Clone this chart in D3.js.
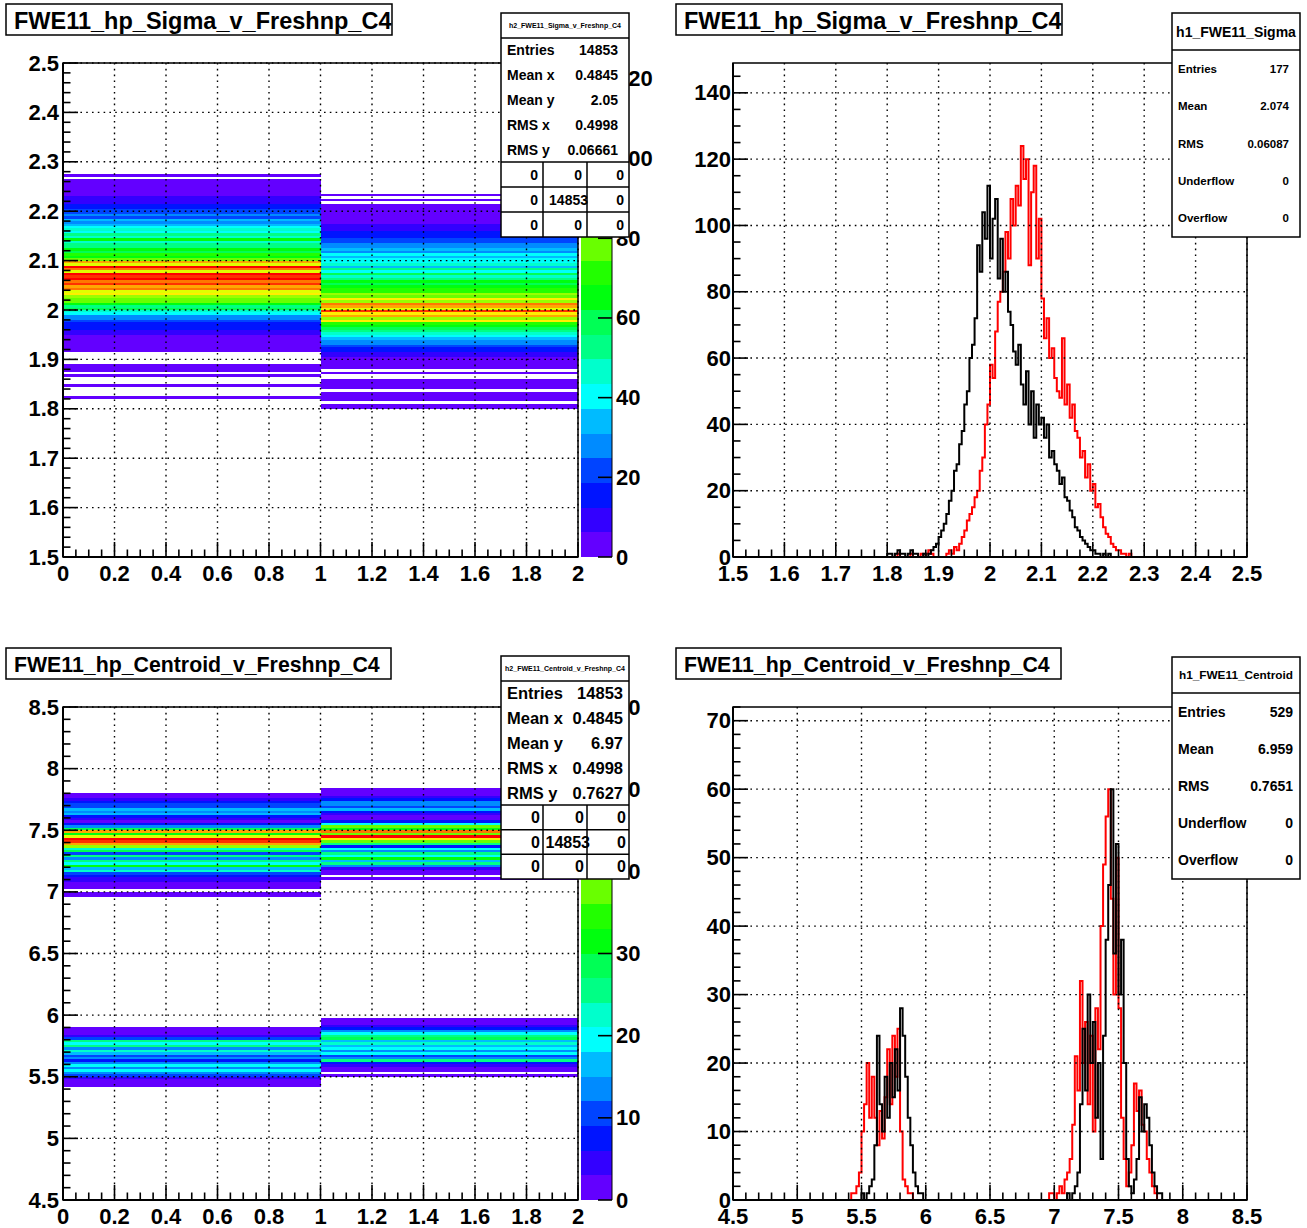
<!DOCTYPE html>
<html>
<head>
<meta charset="utf-8">
<script src="https://cdn.jsdelivr.net/npm/d3@7"></script>
<style>
  body { margin: 0; background: #fff; }
  svg { display: block; font-family: "Liberation Sans", Arial, sans-serif; font-weight: bold; }
</style>
</head>
<body>
<svg id="canvas" width="1307" height="1228"></svg>
<script>
// ---------------- data ----------------
// Sigma histograms: 200 bins of 0.005 between 1.5 and 2.5, listed from the first filled bin
const sigmaDomain = [1.5, 2.5];
const sigmaBinWidth = 0.005;
const sigmaRedFirst = 1.82;   // Freshnp bin 0 (red, left column)
const sigmaRed = [1, 0, 0, 0, 0, 1, 0, 0, 0, 1,
  0, 1, 2, 1, 0, 0, 0, 0, 0, 1,
  2, 1, 3, 2, 4, 6, 8, 11, 13, 15,
  18, 20, 26, 30, 40, 46, 58, 54, 68, 77,
  80, 86, 98, 90, 108, 100, 112, 106, 124, 114,
  120, 88, 110, 118, 90, 102, 78, 66, 72, 60,
  63, 54, 50, 48, 66, 46, 52, 42, 46, 38,
  36, 30, 32, 24, 28, 20, 22, 15, 16, 12,
  9, 7, 6, 4, 3, 2, 2, 1, 1, 0, 1];
const sigmaBlackFirst = 1.80; // Freshnp bin 1 (black, right column)
const sigmaBlack = [1, 1, 0, 1, 2, 1, 1, 0, 1, 2,
  1, 1, 0, 0, 1, 0, 1, 2, 3, 4,
  6, 8, 10, 13, 17, 20, 26, 28, 34, 38,
  46, 50, 60, 64, 72, 94, 86, 104, 96, 112,
  90, 102, 108, 84, 96, 80, 86, 74, 70, 62,
  58, 64, 52, 46, 56, 40, 50, 36, 46, 40,
  42, 36, 40, 30, 32, 28, 26, 22, 24, 18,
  17, 14, 12, 9, 8, 6, 5, 4, 3, 2,
  2, 1, 1, 0, 1, 0, 1];

// Centroid histograms: 200 bins of 0.02 between 4.5 and 8.5
const centroidDomain = [4.5, 8.5];
const centroidBinWidth = 0.02;
const centroidRedLowFirst = 5.42;
const centroidRedLow = [1, 1, 2, 4, 10, 14, 20, 12, 18, 12, 8, 13, 9, 15, 22, 14, 24, 18, 25, 10, 3, 2, 1, 1];
const centroidRedHighFirst = 6.96;
const centroidRedHigh = [1, 1, 0, 1, 2, 1, 3, 4, 6, 11, 21, 16, 32, 20, 26, 14, 24, 10, 28, 22,
  40, 49, 56, 60, 44, 30, 50, 28, 12, 6, 2, 4, 8, 17, 13, 16, 11, 10, 6, 4, 2, 1];
const centroidBlackLowFirst = 5.50;
const centroidBlackLow = [1, 0, 1, 2, 3, 8, 24, 14, 10, 18, 12, 20, 15, 22, 16, 28, 24, 18, 12, 8, 4, 2, 1, 1];
const centroidBlackHighFirst = 7.10;
const centroidBlackHigh = [1, 0, 1, 2, 4, 14, 25, 16, 30, 20, 26, 12, 20, 6, 24, 38, 46, 60, 36, 52,
  30, 38, 20, 6, 2, 1, 3, 6, 15, 10, 14, 12, 8, 4, 2, 1, 1];

// x bins of the 2D histograms (Freshnp)
const freshnpEdges = [0, 1, 2];

// axis tick labels
const freshnpTicks = [0, 0.2, 0.4, 0.6, 0.8, 1, 1.2, 1.4, 1.6, 1.8, 2];
const sigmaTicks = [1.5, 1.6, 1.7, 1.8, 1.9, 2, 2.1, 2.2, 2.3, 2.4, 2.5];
const centroidTicks = [4.5, 5, 5.5, 6, 6.5, 7, 7.5, 8, 8.5];
const sigmaCountTicks = [0, 20, 40, 60, 80, 100, 120, 140];
const centroidCountTicks = [0, 10, 20, 30, 40, 50, 60, 70];
const sigmaZTicks = [0, 20, 40, 60, 80, 100, 120];
const centroidZTicks = [0, 10, 20, 30, 40, 50, 60];
const sigmaCountMax = 149;
const centroidCountMax = 72;

// titles and statistics boxes
const titleSigma = "FWE11_hp_Sigma_v_Freshnp_C4";
const titleCentroid = "FWE11_hp_Centroid_v_Freshnp_C4";
const statsSigma2DName = "h2_FWE11_Sigma_v_Freshnp_C4";
const statsSigma2D = [["Entries", "14853"], ["Mean x", "0.4845"], ["Mean y", "2.05"], ["RMS x", "0.4998"], ["RMS y", "0.06661"]];
const statsCentroid2DName = "h2_FWE11_Centroid_v_Freshnp_C4";
const statsCentroid2D = [["Entries", "14853"], ["Mean x", "0.4845"], ["Mean y", "6.97"], ["RMS x", "0.4998"], ["RMS y", "0.7627"]];
const statsTable = [["0", "0", "0"], ["0", "14853", "0"], ["0", "0", "0"]];
const statsSigma1DName = "h1_FWE11_Sigma";
const statsSigma1D = [["Entries", "177"], ["Mean", "2.074"], ["RMS", "0.06087"], ["Underflow", "0"], ["Overflow", "0"]];
const statsCentroid1DName = "h1_FWE11_Centroid";
const statsCentroid1D = [["Entries", "529"], ["Mean", "6.959"], ["RMS", "0.7651"], ["Underflow", "0"], ["Overflow", "0"]];

// ---------------- helpers ----------------
const svg = d3.select("#canvas");
svg.append("rect").attr("width", 1307).attr("height", 1228).attr("fill", "#fff");

// expand listed segments into full bin list (unlisted bins are empty)
function makeBins(domain, width, segments) {
  const n = Math.round((domain[1] - domain[0]) / width);
  const counts = new Array(n).fill(0);
  segments.forEach(([first, vals]) => {
    const i0 = Math.round((first - domain[0]) / width);
    vals.forEach((v, i) => { counts[i0 + i] = v; });
  });
  return counts.map((c, i) => ({lo: domain[0] + i * width, hi: domain[0] + (i + 1) * width, c: c}));
}

// ROOT "pretty palette": 50 colours violet -> red, 20 contour levels
const nLevels = 20, nColors = 50;
function levelColor(k) {
  const c = Math.floor((k + 0.99) * nColors / nLevels);
  return d3.hsl(280 - (c + 1) * 280 / nColors, 1, 0.5).formatHex();
}
function zLevel(z, zmax) {
  return Math.min(nLevels - 1, Math.floor(0.01 + z * nLevels / zmax));
}

function fmt(v) { return String(+v.toFixed(3)); }

function minorTicks(major, sub, lo, hi) {
  const step = (major[1] - major[0]) / sub;
  const out = [];
  for (let v = major[0] - step * sub; v <= hi + 1e-9; v += step) {
    if (v < lo - 1e-9) continue;
    if (major.some(m => Math.abs(m - v) < 1e-9)) continue;
    out.push(v);
  }
  return out;
}

function drawGrid(g, x, y, xt, yt) {
  const [x0, x1] = x.range(), [y1, y0] = y.range();
  const grid = g.append("g").attr("stroke", "#000").attr("stroke-width", 1.4)
    .attr("stroke-dasharray", "1.6,4.2");
  grid.selectAll(".gx").data(xt).join("line")
    .attr("x1", d => x(d)).attr("x2", d => x(d)).attr("y1", y0).attr("y2", y1);
  grid.selectAll(".gy").data(yt).join("line")
    .attr("x1", x0).attr("x2", x1).attr("y1", d => y(d)).attr("y2", d => y(d));
}

function drawAxes(g, x, y, xt, xsub, yt, ysub, labelRight) {
  const [x0, x1] = x.range(), [y1, y0] = y.range();
  g.append("rect").attr("x", x0).attr("y", y0).attr("width", x1 - x0).attr("height", y1 - y0)
    .attr("fill", "none").attr("stroke", "#000").attr("stroke-width", 1.5);
  const tk = g.append("g").attr("stroke", "#000").attr("stroke-width", 1.6);
  const xl = 15, yl = 15;
  tk.selectAll(".xM").data(xt).join("line")
    .attr("x1", d => x(d)).attr("x2", d => x(d)).attr("y1", y1).attr("y2", y1 - xl);
  tk.selectAll(".xm").data(minorTicks(xt, xsub, x.domain()[0], x.domain()[1])).join("line")
    .attr("x1", d => x(d)).attr("x2", d => x(d)).attr("y1", y1).attr("y2", y1 - xl / 2);
  tk.selectAll(".yM").data(yt).join("line")
    .attr("x1", x0).attr("x2", x0 + yl).attr("y1", d => y(d)).attr("y2", d => y(d));
  tk.selectAll(".ym").data(minorTicks(yt, ysub, y.domain()[0], y.domain()[1])).join("line")
    .attr("x1", x0).attr("x2", x0 + yl / 2).attr("y1", d => y(d)).attr("y2", d => y(d));
  g.append("line").attr("x1", x0).attr("x2", x0).attr("y1", y0).attr("y2", y1)
    .attr("stroke", "#000").attr("stroke-width", 2);
  g.append("line").attr("x1", x0).attr("x2", x1).attr("y1", y1).attr("y2", y1)
    .attr("stroke", "#000").attr("stroke-width", 2);

  g.selectAll(".xlab").data(xt).join("text")
    .attr("x", d => x(d)).attr("y", y1 + 16).attr("text-anchor", "middle")
    .attr("dominant-baseline", "central").attr("font-size", 22).text(fmt);
  g.selectAll(".ylab").data(yt).join("text")
    .attr("x", labelRight).attr("y", d => y(d)).attr("text-anchor", "end")
    .attr("dominant-baseline", "central").attr("font-size", 22).text(fmt);
}

function drawPalette(g, z, zt, x0, x1) {
  const [zb, ztop] = z.range();
  const zmax = z.domain()[1];
  const levels = d3.range(nLevels);
  g.selectAll(".pal").data(levels).join("rect")
    .attr("x", x0).attr("width", x1 - x0)
    .attr("y", k => z(zmax * (k + 1) / nLevels))
    .attr("height", k => z(zmax * k / nLevels) - z(zmax * (k + 1) / nLevels))
    .attr("fill", k => levelColor(k)).attr("shape-rendering", "crispEdges");
  g.selectAll(".ptk").data(zt).join("line")
    .attr("x1", x1 - 14).attr("x2", x1).attr("y1", d => z(d)).attr("y2", d => z(d))
    .attr("stroke", "#000").attr("stroke-width", 1.6);
  g.append("line").attr("x1", x1).attr("x2", x1).attr("y1", zb).attr("y2", ztop)
    .attr("stroke", "#000").attr("stroke-width", 1);
  g.selectAll(".plab").data(zt).join("text")
    .attr("x", x1 + 4).attr("y", d => z(d)).attr("dominant-baseline", "central")
    .attr("font-size", 22).text(fmt);
}

function draw2D(g, x, y, columns, zmax) {
  columns.forEach(col => {
    g.append("g").selectAll("rect").data(col.bins.filter(b => b.c > 0)).join("rect")
      .attr("x", x(col.lo)).attr("width", x(col.hi) - x(col.lo))
      .attr("y", b => y(b.hi)).attr("height", b => y(b.lo) - y(b.hi))
      .attr("fill", b => levelColor(zLevel(b.c, zmax)))
      .attr("shape-rendering", "crispEdges");
  });
}

function drawStep(g, x, y, bins, color) {
  const pts = [];
  bins.forEach(b => { pts.push([x(b.lo), y(b.c)]); pts.push([x(b.hi), y(b.c)]); });
  g.append("path").attr("d", d3.line()(pts)).attr("fill", "none")
    .attr("stroke", color).attr("stroke-width", 2).attr("stroke-linejoin", "miter");
}

function drawTitle(g, box, text, size) {
  g.append("rect").attr("x", box[0]).attr("y", box[1]).attr("width", box[2] - box[0])
    .attr("height", box[3] - box[1]).attr("fill", "#fff").attr("stroke", "#000").attr("stroke-width", 1.5);
  g.append("text").attr("x", box[0] + 8).attr("y", (box[1] + box[3]) / 2 + 1)
    .attr("dominant-baseline", "central").attr("font-size", size).text(text);
}

// o: box, titleBottom, name, nameSize, rows, rowSize, labelX, valueX, table
function drawStats(g, o) {
  const [bx0, by0, bx1, by1] = o.box;
  g.append("rect").attr("x", bx0).attr("y", by0).attr("width", bx1 - bx0).attr("height", by1 - by0)
    .attr("fill", "#fff").attr("stroke", "#000").attr("stroke-width", 1.5);
  g.append("line").attr("x1", bx0).attr("x2", bx1).attr("y1", o.titleBottom).attr("y2", o.titleBottom)
    .attr("stroke", "#000").attr("stroke-width", 1.5);
  g.append("text").attr("x", (bx0 + bx1) / 2).attr("y", (by0 + o.titleBottom) / 2)
    .attr("text-anchor", "middle").attr("dominant-baseline", "central")
    .attr("font-size", o.nameSize).text(o.name);
  const rowsBottom = o.table ? o.tableTop : by1;
  const rh = (rowsBottom - o.titleBottom) / o.rows.length;
  o.rows.forEach((r, i) => {
    const cy = o.titleBottom + rh * (i + 0.5);
    g.append("text").attr("x", o.labelX).attr("y", cy).attr("dominant-baseline", "central")
      .attr("font-size", o.rowSize).text(r[0]);
    g.append("text").attr("x", o.valueX).attr("y", cy).attr("dominant-baseline", "central")
      .attr("text-anchor", "end").attr("font-size", o.rowSize).text(r[1]);
  });
  if (o.table) {
    const th = (by1 - o.tableTop) / o.table.length;
    const cols = [bx0, o.colX[0], o.colX[1], bx1];
    const ln = g.append("g").attr("stroke", "#000").attr("stroke-width", 1.5);
    d3.range(o.table.length).forEach(i => {
      ln.append("line").attr("x1", bx0).attr("x2", bx1)
        .attr("y1", o.tableTop + th * i).attr("y2", o.tableTop + th * i);
    });
    o.colX.forEach(cx => {
      ln.append("line").attr("x1", cx).attr("x2", cx).attr("y1", o.tableTop).attr("y2", by1);
    });
    o.table.forEach((row, i) => {
      row.forEach((v, j) => {
        const pad = (v.length > 1) ? o.cellPad - 6 : o.cellPad;
        g.append("text").attr("x", cols[j + 1] - pad).attr("y", o.tableTop + th * (i + 0.5))
          .attr("text-anchor", "end").attr("dominant-baseline", "central")
          .attr("font-size", o.tableSize).text(v);
      });
    });
  }
}

// ---------------- build the bins ----------------
const sigmaRedBins = makeBins(sigmaDomain, sigmaBinWidth, [[sigmaRedFirst, sigmaRed]]);
const sigmaBlackBins = makeBins(sigmaDomain, sigmaBinWidth, [[sigmaBlackFirst, sigmaBlack]]);
const centroidRedBins = makeBins(centroidDomain, centroidBinWidth,
  [[centroidRedLowFirst, centroidRedLow], [centroidRedHighFirst, centroidRedHigh]]);
const centroidBlackBins = makeBins(centroidDomain, centroidBinWidth,
  [[centroidBlackLowFirst, centroidBlackLow], [centroidBlackHighFirst, centroidBlackHigh]]);

const sigmaZmax = d3.max(sigmaRed.concat(sigmaBlack));
const centroidZmax = d3.max(centroidRedLow.concat(centroidRedHigh, centroidBlackLow, centroidBlackHigh));

// ---------------- pad 1: Sigma vs Freshnp (COLZ) ----------------
{
  const g = svg.append("g");
  const x = d3.scaleLinear(d3.extent(freshnpEdges), [63, 578]);
  const y = d3.scaleLinear(sigmaDomain, [557, 63]);
  const z = d3.scaleLinear([0, sigmaZmax], [557, 63]);
  draw2D(g, x, y, [
    {lo: freshnpEdges[0], hi: freshnpEdges[1], bins: sigmaRedBins},
    {lo: freshnpEdges[1], hi: freshnpEdges[2], bins: sigmaBlackBins}], sigmaZmax);
  drawGrid(g, x, y, freshnpTicks, sigmaTicks);
  drawAxes(g, x, y, freshnpTicks, 4, sigmaTicks, 5, 59);
  drawPalette(g, z, sigmaZTicks, 581, 612);
  drawStats(g, {box: [501, 13, 629, 237], titleBottom: 38, name: statsSigma2DName, nameSize: 7,
    rows: statsSigma2D, rowSize: 14, labelX: 507, valueX: 618,
    table: statsTable, tableTop: 162, colX: [543, 587], cellPad: 5, tableSize: 14});
  drawTitle(g, [6, 4, 392, 35], titleSigma, 23.5);
}

// ---------------- pad 2: Sigma projections ----------------
{
  const g = svg.append("g");
  const x = d3.scaleLinear(sigmaDomain, [733, 1247]);
  const y = d3.scaleLinear([0, sigmaCountMax], [557, 63]);
  drawStep(g, x, y, sigmaRedBins, "#ff0000");
  drawStep(g, x, y, sigmaBlackBins, "#000000");
  drawGrid(g, x, y, sigmaTicks, sigmaCountTicks);
  drawAxes(g, x, y, sigmaTicks, 4, sigmaCountTicks, 4, 731);
  drawStats(g, {box: [1172, 13, 1300, 237], titleBottom: 50, name: statsSigma1DName, nameSize: 14,
    rows: statsSigma1D, rowSize: 11.5, labelX: 1178, valueX: 1289});
  drawTitle(g, [676, 4, 1062, 35], titleSigma, 23.5);
}

// ---------------- pad 3: Centroid vs Freshnp (COLZ) ----------------
{
  const g = svg.append("g");
  const x = d3.scaleLinear(d3.extent(freshnpEdges), [63, 578]);
  const y = d3.scaleLinear(centroidDomain, [1200, 707]);
  const z = d3.scaleLinear([0, centroidZmax], [1200, 707]);
  draw2D(g, x, y, [
    {lo: freshnpEdges[0], hi: freshnpEdges[1], bins: centroidRedBins},
    {lo: freshnpEdges[1], hi: freshnpEdges[2], bins: centroidBlackBins}], centroidZmax);
  drawGrid(g, x, y, freshnpTicks, centroidTicks);
  drawAxes(g, x, y, freshnpTicks, 4, centroidTicks, 5, 59);
  drawPalette(g, z, centroidZTicks, 581, 612);
  drawStats(g, {box: [501, 656, 629, 879], titleBottom: 681, name: statsCentroid2DName, nameSize: 7,
    rows: statsCentroid2D, rowSize: 16.5, labelX: 507, valueX: 623,
    table: statsTable, tableTop: 805, colX: [543, 587], cellPad: 3, tableSize: 16});
  drawTitle(g, [6, 648, 391, 679], titleCentroid, 21.3);
}

// ---------------- pad 4: Centroid projections ----------------
{
  const g = svg.append("g");
  const x = d3.scaleLinear(centroidDomain, [733, 1247]);
  const y = d3.scaleLinear([0, centroidCountMax], [1200, 707]);
  drawStep(g, x, y, centroidRedBins, "#ff0000");
  drawStep(g, x, y, centroidBlackBins, "#000000");
  drawGrid(g, x, y, centroidTicks, centroidCountTicks);
  drawAxes(g, x, y, centroidTicks, 5, centroidCountTicks, 5, 731);
  drawStats(g, {box: [1172, 657, 1300, 879], titleBottom: 693, name: statsCentroid1DName, nameSize: 11.8,
    rows: statsCentroid1D, rowSize: 14, labelX: 1178, valueX: 1293});
  drawTitle(g, [676, 648, 1061, 679], titleCentroid, 21.3);
}
</script>
</body>
</html>
